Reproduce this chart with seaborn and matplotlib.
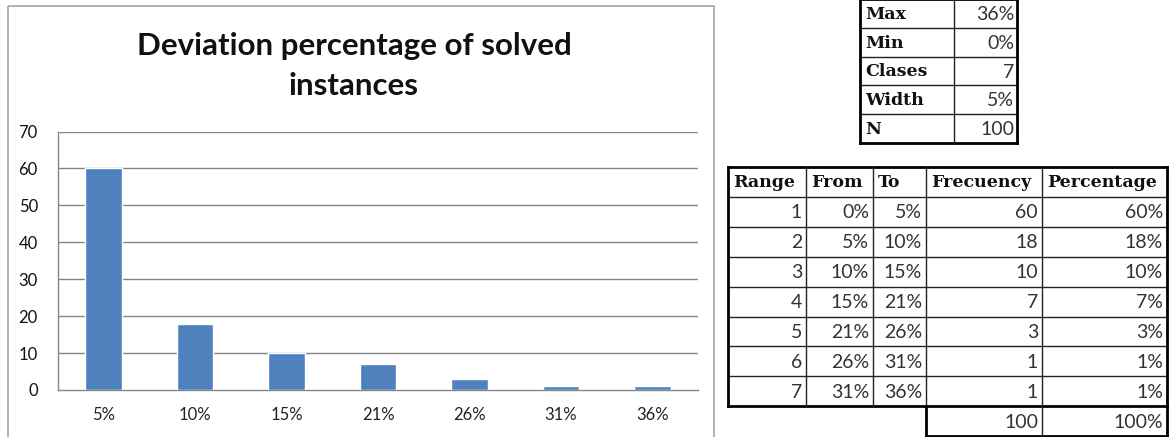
import matplotlib
matplotlib.use("Agg")
import matplotlib.pyplot as plt
import seaborn as sns
import pandas as pd
from matplotlib.patches import Rectangle

# ---- data -------------------------------------------------------------
range_ids = [1, 2, 3, 4, 5, 6, 7]
from_labels = ["0%", "5%", "10%", "15%", "21%", "26%", "31%"]
to_labels = ["5%", "10%", "15%", "21%", "26%", "31%", "36%"]
frequency = [60, 18, 10, 7, 3, 1, 1]

summary_names = ["Max", "Min", "Clases", "Width", "N"]
summary_values = ["36%", "0%", "7", "5%", "100"]

title_lines = ["Deviation percentage of solved", "instances"]
y_ticks = [0, 10, 20, 30, 40, 50, 60, 70]

total = sum(frequency)
percent_labels = [f"{round(100 * f / total)}%" for f in frequency]

df = pd.DataFrame({"upper": to_labels, "count": frequency})

# ---- figure -----------------------------------------------------------
W, H = 1173, 437
DPI = 100
sns.set_theme(style="white")
plt.rcParams["font.family"] = ["Lato", "DejaVu Sans"]

fig = plt.figure(figsize=(W / DPI, H / DPI), dpi=DPI, facecolor="white")

# pixel-space overlay for frame and tables
over = fig.add_axes([0, 0, 1, 1], zorder=0)
over.set_xlim(0, W)
over.set_ylim(H, 0)
over.axis("off")

# chart frame
over.add_patch(Rectangle((8, 6), 706, 440, fill=False, ec="#a6a6a6", lw=1.2))

# ---- bar chart --------------------------------------------------------
ax_l, ax_r, ax_t, ax_b = 58, 698, 131.5, 390
ax = fig.add_axes([ax_l / W, 1 - ax_b / H, (ax_r - ax_l) / W, (ax_b - ax_t) / H], zorder=2)
ax.set_facecolor("none")
sns.barplot(data=df, x="upper", y="count", color="#4F81BD", saturation=1,
            width=0.4, ax=ax, zorder=3)
ax.set_xlim(-0.5, len(to_labels) - 0.5)
ax.set_ylim(0, 70)
ax.set_yticks(y_ticks)
ax.set_xlabel("")
ax.set_ylabel("")
for yv in y_ticks[1:]:
    ax.axhline(yv, color="#868686", lw=1.0, zorder=1)
for s in ["top", "right"]:
    ax.spines[s].set_visible(False)
for s in ["left", "bottom"]:
    ax.spines[s].set_color("#868686")
    ax.spines[s].set_linewidth(1.0)
ax.set_xticks([i - 0.5 for i in range(len(to_labels) + 1)], minor=True)
ax.tick_params(axis="x", which="major", length=0, pad=12, labelsize=12, labelcolor="#222222")
ax.tick_params(axis="x", which="minor", length=5, width=1, color="#868686", direction="out")
ax.tick_params(axis="y", length=5, width=1, color="#868686", direction="out", pad=9.5,
               labelsize=12, labelcolor="#111111")
ax.grid(False)

cx = 354
fig.text(cx / W, 1 - 55 / H, title_lines[0], ha="center", va="baseline",
         fontsize=22.5, fontweight="bold", color="#111111")
fig.text(cx / W, 1 - 95 / H, title_lines[1], ha="center", va="baseline",
         fontsize=22.5, fontweight="bold", color="#111111")

# ---- tables -----------------------------------------------------------
HEAD_FONT = ["DejaVu Serif"]
BODY_FONT = ["Lato", "DejaVu Sans"]
inner_c, outer_c = "#222222", "#000000"


def hline(x0, x1, y, lw):
    over.plot([x0, x1], [y, y], color=outer_c if lw > 1.5 else inner_c, lw=lw,
              solid_capstyle="projecting", zorder=4)


def vline(x, y0, y1, lw):
    over.plot([x, x], [y0, y1], color=outer_c if lw > 1.5 else inner_c, lw=lw,
              solid_capstyle="projecting", zorder=4)


# summary table
sx = [860, 954, 1017]
s_top, s_h = -1.0, 28.8
sy = [s_top + i * s_h for i in range(len(summary_names) + 1)]
for i, y in enumerate(sy):
    hline(sx[0], sx[-1], y, 2.0 if i in (0, len(sy) - 1) else 1.0)
vline(sx[0], sy[0], sy[-1], 2.0)
vline(sx[1], sy[0], sy[-1], 1.0)
vline(sx[2], sy[0], sy[-1], 2.0)
for i, (nm, val) in enumerate(zip(summary_names, summary_values)):
    yc = (sy[i] + sy[i + 1]) / 2 + 1
    over.text(sx[0] + 5, yc, nm, ha="left", va="center", family=HEAD_FONT,
              fontweight="bold", fontsize=12.5, color="#111111", zorder=5)
    over.text(sx[2] - 3, yc, val, ha="right", va="center", family=BODY_FONT,
              fontsize=14, color="#333333", zorder=5)

# frequency table
tx = [728, 806, 873, 926, 1042, 1167]
t_top, t_h = 167, 29.9
n_rows = 1 + len(range_ids)
ty = [t_top + i * t_h for i in range(n_rows + 2)]
headers = ["Range", "From", "To", "Frecuency", "Percentage"]

for i in range(n_rows + 1):
    hline(tx[0], tx[-1], ty[i], 2.0 if i in (0, n_rows) else 1.0)
hline(tx[3], tx[-1], ty[n_rows + 1], 2.0)
vline(tx[0], ty[0], ty[n_rows], 2.0)
for x in tx[1:3]:
    vline(x, ty[0], ty[n_rows], 1.0)
vline(tx[3], ty[0], ty[n_rows], 1.0)
vline(tx[3], ty[n_rows], ty[n_rows + 1], 2.0)
vline(tx[4], ty[0], ty[n_rows + 1], 1.0)
vline(tx[5], ty[0], ty[n_rows + 1], 2.0)

for j, hd in enumerate(headers):
    over.text(tx[j] + 5, (ty[0] + ty[1]) / 2 + 1, hd, ha="left", va="center",
              family=HEAD_FONT, fontweight="bold", fontsize=12.5, color="#111111", zorder=5)

rows = list(zip([str(r) for r in range_ids], from_labels, to_labels,
                [str(f) for f in frequency], percent_labels))
for i, row in enumerate(rows):
    yc = (ty[i + 1] + ty[i + 2]) / 2 + 1
    for j, cell in enumerate(row):
        over.text(tx[j + 1] - 4, yc, cell, ha="right", va="center", family=BODY_FONT,
                  fontsize=14, color="#333333", zorder=5)

yc = (ty[n_rows] + ty[n_rows + 1]) / 2 + 1
over.text(tx[4] - 4, yc, str(total), ha="right", va="center", family=BODY_FONT,
          fontsize=14, color="#333333", zorder=5)
over.text(tx[5] - 4, yc, f"{round(100 * total / total)}%", ha="right", va="center",
          family=BODY_FONT, fontsize=14, color="#333333", zorder=5)

fig.savefig("out.png", dpi=DPI, facecolor="white")
